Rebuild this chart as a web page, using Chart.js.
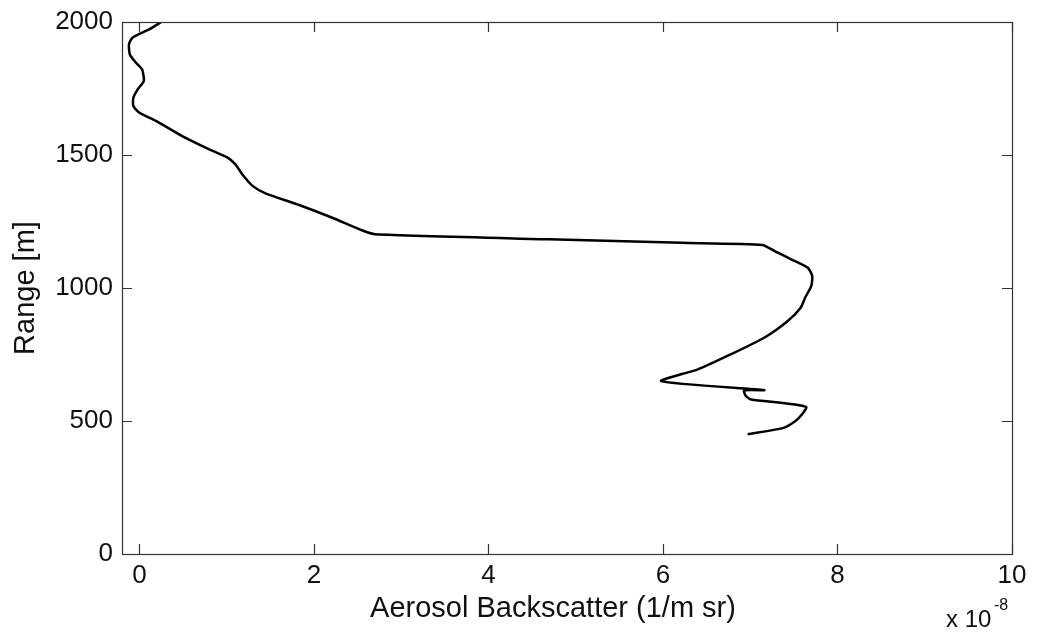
<!DOCTYPE html>
<html>
<head>
<meta charset="utf-8">
<script src="https://cdn.jsdelivr.net/npm/chart.js@4.4.1/dist/chart.umd.min.js"></script>
<style>
  html, body { margin: 0; padding: 0; background: #fff; }
  #wrap { width: 1037px; height: 635px; }
</style>
</head>
<body>
<div id="wrap"><canvas id="profile" width="1037" height="635"></canvas></div>
<script>
// backscatter profile, x in units of 1e-8 (1/m sr), range in m
const backscatter = [
  0.25, 0.11, -0.08, -0.12, -0.11, -0.04, 0.03, 0.05, -0.02, -0.07, -0.07, 0.0,
  0.19, 0.49, 0.80, 1.01, 1.10, 1.18, 1.30, 1.45, 1.83, 2.21, 2.55, 2.70,
  4.69, 6.21, 7.14, 7.28, 7.47, 7.66, 7.71, 7.70, 7.63, 7.58, 7.43, 7.16,
  6.78, 6.40, 5.98, 7.16, 6.93, 6.95, 7.01, 7.64, 7.54, 7.39, 6.97
];
const range = [
  2000, 1972, 1941, 1916, 1878, 1847, 1822, 1778, 1747, 1715, 1684, 1659,
  1628, 1571, 1521, 1490, 1465, 1427, 1383, 1355, 1312, 1264, 1217, 1202,
  1183, 1170, 1162, 1139, 1108, 1076, 1045, 1008, 964, 927, 876, 813,
  751, 694, 650, 616, 615, 594, 581, 553, 506, 475, 450
];
const xTicks = [0, 2, 4, 6, 8, 10];
const yTicks = [0, 500, 1000, 1500, 2000];
const xTitle = 'Aerosol Backscatter (1/m sr)';
const yTitle = 'Range [m]';

const FONT = "'Liberation Sans', Arial, sans-serif";

// MATLAB-style box: full frame, inward ticks on all four sides,
// x label and the exponent note under the axis
const boxPlugin = {
  id: 'boxTicks',
  afterDraw(chart) {
    const { ctx, chartArea: a, scales: { x, y } } = chart;
    const len = 10;
    ctx.save();
    ctx.strokeStyle = '#333';
    ctx.lineWidth = 1.2;
    ctx.strokeRect(Math.round(a.left) + 0.5, Math.round(a.top) + 0.5,
      Math.round(a.right - a.left), Math.round(a.bottom - a.top));
    ctx.beginPath();
    xTicks.forEach(v => {
      const px = Math.round(x.getPixelForValue(v)) + 0.5;
      ctx.moveTo(px, a.bottom); ctx.lineTo(px, a.bottom - len);
      ctx.moveTo(px, a.top); ctx.lineTo(px, a.top + len);
    });
    yTicks.forEach(v => {
      const py = Math.round(y.getPixelForValue(v)) + 0.5;
      ctx.moveTo(a.left, py); ctx.lineTo(a.left + len, py);
      ctx.moveTo(a.right, py); ctx.lineTo(a.right - len, py);
    });
    ctx.stroke();

    ctx.fillStyle = '#111';
    ctx.textBaseline = 'alphabetic';
    ctx.textAlign = 'center';
    ctx.font = '29px ' + FONT;
    ctx.fillText(xTitle, 553, 617);

    ctx.textAlign = 'left';
    ctx.font = '24px ' + FONT;
    ctx.fillText('x 10', 946, 627);
    ctx.font = '16px ' + FONT;
    ctx.fillText('-8', 994, 610);
    ctx.restore();
  }
};

new Chart(document.getElementById('profile'), {
  type: 'scatter',
  data: {
    datasets: [{
      data: backscatter.map((v, i) => ({ x: v, y: range[i] })),
      showLine: true,
      borderColor: '#000',
      borderWidth: 2.5,
      pointRadius: 0,
      tension: 0.2,
      fill: false
    }]
  },
  options: {
    responsive: false,
    animation: false,
    layout: { padding: { top: 22, right: 25, left: 0, bottom: 0 } },
    plugins: { legend: { display: false }, tooltip: { enabled: false } },
    scales: {
      x: {
        type: 'linear',
        min: -0.2,
        max: 10,
        afterBuildTicks: s => { s.ticks = xTicks.map(v => ({ value: v })); },
        afterFit: s => { s.height = 81; s.paddingLeft = 0; s.paddingRight = 0; },
        grid: { display: false, drawTicks: false },
        border: { display: false },
        ticks: {
          color: '#111', padding: 6,
          font: { family: FONT, size: 26 },
          callback: v => String(v)
        },
        title: { display: false }
      },
      y: {
        type: 'linear',
        min: 0,
        max: 2000,
        afterBuildTicks: s => { s.ticks = yTicks.map(v => ({ value: v })); },
        afterFit: s => { s.width = 122; s.paddingTop = 0; s.paddingBottom = 0; },
        grid: { display: false, drawTicks: false },
        border: { display: false },
        ticks: {
          color: '#111', padding: 9,
          font: { family: FONT, size: 26 },
          callback: v => String(v)
        },
        title: {
          display: true,
          text: yTitle,
          color: '#111',
          font: { family: FONT, size: 29 },
          padding: { top: 9, bottom: 0 }
        }
      }
    }
  },
  plugins: [boxPlugin]
});
</script>
</body>
</html>
